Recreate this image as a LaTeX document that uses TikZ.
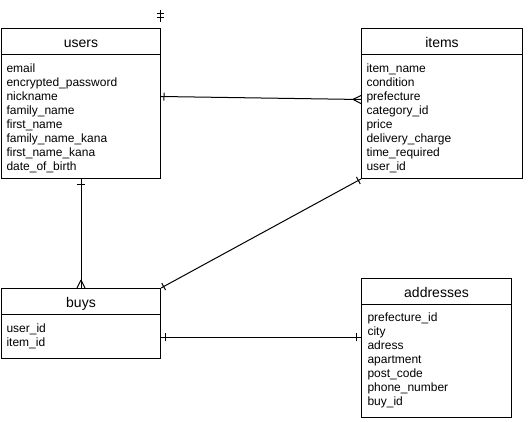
\documentclass[tikz,border=0pt]{standalone}
\usepackage{fontspec}
\setmainfont{Liberation Sans}
\usetikzlibrary{decorations.markings}
\begin{document}
\begin{tikzpicture}[x=1pt,y=-1pt,line width=1pt,
  hdr/.style={draw,anchor=north west,inner sep=0,text height=19pt,text depth=7pt,minimum height=26pt,font=\fontsize{14}{16}\selectfont},
  body/.style={draw,anchor=north west,inner sep=0},
  fields/.style={anchor=north west,align=left,inner sep=0,font=\fontsize{12}{14}\selectfont},
  one at/.style={postaction={decorate,decoration={markings,mark=at position #1 with {\draw[line width=1pt] (0,-4pt)--(0,4pt);}}}},
  many end/.style={postaction={decorate,decoration={markings,mark=at position 1 with {\draw[line width=1pt] (-8pt,0)--(0,4pt) (-8pt,0)--(0,-4pt);}}}}
]
\useasboundingbox (0,0) rectangle (531,422);

% users
\node[hdr,minimum width=159pt] (usersh) at (1,28) {users};
\node[body,minimum width=159pt,minimum height=124pt] (usersb) at (1,54) {};
\node[fields] (usersf) at (6,62.2) {\strut email\\\strut encrypted\_password\\\strut nickname\\\strut family\_name\\\strut first\_name\\\strut family\_name\_kana\\\strut first\_name\_kana\\\strut date\_of\_birth};

% items
\node[hdr,minimum width=161pt] (itemsh) at (361,28) {items};
\node[body,minimum width=161pt,minimum height=124pt] (itemsb) at (361,54) {};
\node[fields] (itemsf) at (366,62.2) {\strut item\_name\\\strut condition\\\strut prefecture\\\strut category\_id\\\strut price\\\strut delivery\_charge\\\strut time\_required\\\strut user\_id};

% buys
\node[hdr,minimum width=159pt] (buysh) at (1,288) {buys};
\node[body,minimum width=159pt,minimum height=44pt] (buysb) at (1,314) {};
\node[fields] (buysf) at (6,322.2) {\strut user\_id\\\strut item\_id};

% addresses
\node[hdr,minimum width=150pt] (addrh) at (361,278) {addresses};
\node[body,minimum width=150pt,minimum height=113pt] (addrb) at (361,304) {};
\node[fields] (addrf) at (367,311.2) {\strut prefecture\_id\\\strut city\\\strut adress\\\strut apartment\\\strut post\_code\\\strut phone\_number\\\strut buy\_id};

% stray marker
\coordinate (sA) at (160,10);
\coordinate (sB) at (160,22);
\draw (sA) -- (sB);
\draw ([xshift=-3.5pt,yshift=-4pt]sA) -- ([xshift=3.5pt,yshift=-4pt]sA);
\draw ([xshift=-3.5pt,yshift=4pt]sB) -- ([xshift=3.5pt,yshift=4pt]sB);

% connectors
\draw[one at=3pt,many end] ([yshift=20pt]usersb.east) -- ([yshift=17pt]itemsb.west);
\draw[one at=6pt,many end] (usersb.south) -- (buysh.north);
\draw[one at=3pt,one at=-3pt] (buysh.north east) -- (itemsb.south west);
\draw[one at=4pt,one at=-5pt] ([yshift=-1pt]buysb.east) -- ([yshift=23.5pt]addrb.west);
\end{tikzpicture}
\end{document}
